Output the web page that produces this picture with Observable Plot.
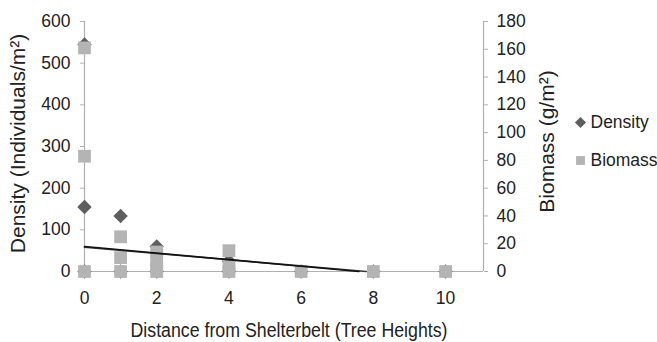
<!DOCTYPE html>
<html><head><meta charset="utf-8">
<script src="https://cdn.jsdelivr.net/npm/d3@7"></script>
<script src="https://cdn.jsdelivr.net/npm/@observablehq/plot@0.6"></script>
<style>body{margin:0;background:#fff;}</style>
</head><body><div id="chart"></div>
<script>
// Data
const densityDistance = [0, 0, 0, 1, 1, 2, 2, 4, 4, 6, 8, 10];
const densityValues   = [545, 155, 0, 133, 0, 60, 0, 25, 0, 0, 0, 0];
const biomassDistance = [0, 0, 0, 1, 1, 1, 2, 2, 2, 2, 4, 4, 4, 6, 8, 10];
const biomassValues   = [161, 83, 0, 25, 10, 0, 14, 8, 3, 0, 15, 4, 0, 0, 0, 0];
const densityTrendDistance = [0, 7.6];
const densityTrendValues = [60, 0];
const biomassTrendDistance = [0, 7.8];
const biomassTrendValues = [17.4, 0];
const xTicks = [0, 2, 4, 6, 8, 10];
const leftTicks = [0, 100, 200, 300, 400, 500, 600];
const rightTicks = [0, 20, 40, 60, 80, 100, 120, 140, 160, 180];
const seriesNames = ["Density", "Biomass"];
const xTitle = "Distance from Shelterbelt (Tree Heights)";

const xMax = 11.05;
const ratio = 600 / 180; // biomass -> density units (secondary axis)

const density = densityDistance.map((d, i) => ({x: d, y: densityValues[i]}));
const biomass = biomassDistance.map((d, i) => ({x: d, y: biomassValues[i] * ratio}));
const dTrend = densityTrendDistance.map((d, i) => ({x: d, y: densityTrendValues[i]}));
const bTrend = biomassTrendDistance.map((d, i) => ({x: d, y: biomassTrendValues[i] * ratio}));

const darkC = "#5e5e5e", lightC = "#b4b4b4", axisC = "#b0b0b0", textC = "#222";

const chart = Plot.plot({
  width: 657, height: 342,
  marginLeft: 84, marginRight: 174, marginTop: 21, marginBottom: 71,
  style: {fontFamily: "'Liberation Sans', Arial, sans-serif", fontSize: "17.5px", color: textC, background: "#fff"},
  x: {domain: [0, xMax]},
  y: {domain: [0, 600]},
  marks: [
    Plot.ruleY([0], {stroke: axisC, strokeWidth: 1.2}),
    Plot.ruleX([0], {stroke: axisC, strokeWidth: 1.2}),
    Plot.ruleX([xMax], {stroke: axisC, strokeWidth: 1.2}),
    Plot.axisY({ticks: leftTicks, tickSize: 4, tickPadding: 10, stroke: axisC, label: null, fill: textC}),
    Plot.axisY({anchor: "right", ticks: rightTicks.map(v => v * ratio), tickFormat: d => Math.round(d / ratio),
      tickSize: 4, tickPadding: 9, stroke: axisC, label: null, fill: textC}),
    Plot.axisX({ticks: xTicks, tickSize: 0, tickPadding: 20, label: null, fill: textC}),
    Plot.dot(density, {x: "x", y: "y", symbol: "diamond2", r: 6.5, fill: darkC, stroke: "none"}),
    Plot.dot(biomass, {x: "x", y: "y", symbol: "square", r: 7.2, fill: lightC, stroke: "none"}),
    Plot.line(bTrend, {x: "x", y: "y", stroke: "#3a3a3a", strokeWidth: 1.5}),
    Plot.line(dTrend, {x: "x", y: "y", stroke: "#111", strokeWidth: 1.6}),
    // axis titles
    Plot.text([xTitle], {frameAnchor: "bottom", textAnchor: "middle", lineAnchor: "middle", dy: 59, dx: 5, fill: textC, fontSize: 20}),
    Plot.text(["Density (Individuals/m²)"], {frameAnchor: "left", textAnchor: "middle", lineAnchor: "middle", rotate: -90, dx: -66, dy: -3, fill: textC, fontSize: 21}),
    Plot.text(["Biomass (g/m²)"], {frameAnchor: "right", textAnchor: "middle", lineAnchor: "middle", rotate: -90, dx: 64, dy: -5, fill: textC, fontSize: 21}),
    // legend
    Plot.dot([{}], {x: null, y: null, frameAnchor: "right", dx: 97, dy: -24, symbol: "diamond2", r: 5, fill: darkC}),
    Plot.text([seriesNames[0]], {frameAnchor: "right", dx: 107, dy: -24, textAnchor: "start", lineAnchor: "middle", fill: textC}),
    Plot.dot([{}], {x: null, y: null, frameAnchor: "right", dx: 97, dy: 14, symbol: "square", r: 5, fill: lightC}),
    Plot.text([seriesNames[1]], {frameAnchor: "right", dx: 107, dy: 14, textAnchor: "start", lineAnchor: "middle", fill: textC})
  ]
});
// compress the x-axis title horizontally like the reference's narrow glyphs
d3.select(chart).selectAll("text").filter(function() { return this.textContent === xTitle; })
  .attr("textLength", 317).attr("lengthAdjust", "spacingAndGlyphs");
document.getElementById("chart").appendChild(chart);
</script>
</body></html>
